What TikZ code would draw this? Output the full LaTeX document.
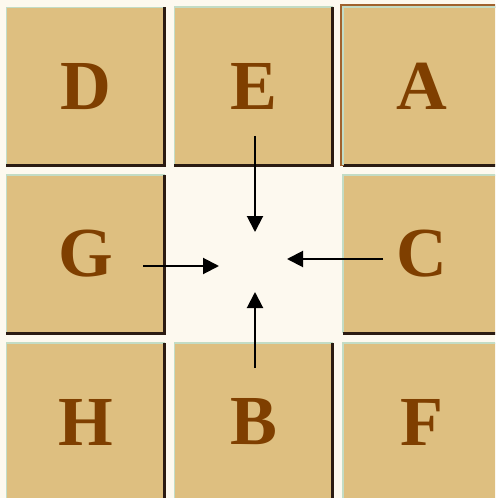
\documentclass[tikz,border=0pt]{standalone}
\usepackage{fontspec}
\setmainfont{Liberation Serif}[BoldFont={Liberation Serif Bold}]
\usetikzlibrary{arrows.meta}
\definecolor{Paper}{HTML}{FDF9EF}
\definecolor{Tan}{HTML}{DEBF80}
\definecolor{Letter}{HTML}{7F3F00}
\definecolor{Edge}{HTML}{2B1B12}
\definecolor{Glint}{HTML}{C3DCC5}
\definecolor{Rim}{HTML}{A0622D}
\tikzset{tile/.style={fill=Tan,minimum size=7.9cm,inner sep=0pt,text=Letter,font=\bfseries\fontsize{100}{100}\selectfont},lit/.style={draw=Glint,line width=.08cm},dark/.style={draw=Edge,line width=.15cm},rim/.style={draw=Rim,line width=.2cm},push/.style={-{Triangle[length=.8cm,width=.8cm]},line width=.1cm}}

\begin{document}
\begin{tikzpicture}[x=.05cm,y=-.05cm]
      \fill[Paper](0,0)rectangle(495,498);
      \useasboundingbox(0,0)rectangle(495,498);
      \clip(0,0)rectangle(495,498);
      \foreach \t/\x/\y in {D/85.5/86.5,E/253.5/86,A/422/86,G/85.5/254,C/422/254,H/85.5/422,B/253.5/422,F/422/422}{
        \node[tile](\t)at(\x,\y){\t};
        \draw[lit](\t.south west)|-(\t.north east);
        \draw[dark](\t.north east)|-(\t.south west);
      }
      % A has a brown rim
      \draw[rim]([shift={(-1.2,1.2)}]A.south west)|-([shift={(1.2,-1.2)}]A.north east);
      \draw[lit](A.south west)|-(A.north east);
      \coordinate(fromE)at(255,136);\coordinate(toE)at(255,232);
      \coordinate(fromG)at(143,266);\coordinate(toG)at(219,266);
      \coordinate(fromC)at(383,259);\coordinate(toC)at(287,259);
      \coordinate(fromB)at(255,368);\coordinate(toB)at(255,292);
      \draw[push](fromE)--(toE);\draw[push](fromG)--(toG);
      \draw[push](fromC)--(toC);\draw[push](fromB)--(toB);
    \end{tikzpicture}
\end{document}
